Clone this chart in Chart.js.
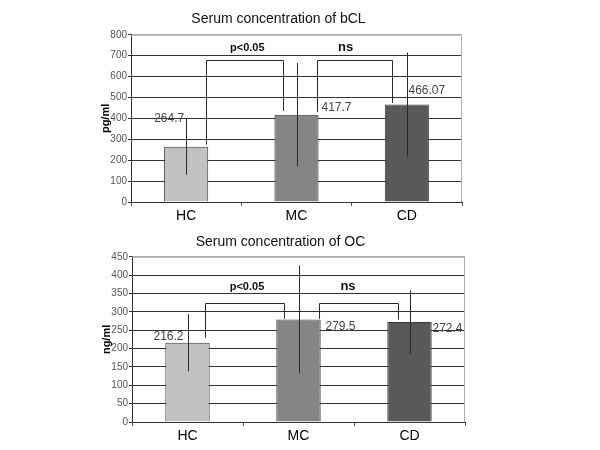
<!DOCTYPE html>
<html lang="en">
  <head>
    <meta charset="UTF-8" />
    <title>Serum concentration</title>
    <script src="https://cdn.jsdelivr.net/npm/chart.js"></script>
    <style>
      body {
        margin: 0;
        background: #fff;
        font-family: Arial, "Liberation Sans", sans-serif;
      }
      .wrap {
        position: relative;
        width: 600px;
        height: 225px;
      }
    </style>
  </head>
  <body>
    <div class="wrap"><canvas id="bclChart" width="600" height="225"></canvas></div>
    <div class="wrap"><canvas id="ocChart" width="600" height="225"></canvas></div>

    <script>
      // data
      const categories = ["HC", "MC", "CD"];
      const barColors = ["#c2c2c2", "#858585", "#595959"];

      const bclMeans = [264.7, 417.7, 466.07];
      const bclErrors = [134, 247, 249];
      const bclTicks = [0, 100, 200, 300, 400, 500, 600, 700, 800];
      const bclBracketTop = 680;
      const bclBracketLegs = [[275, 435], [430, 474]];

      const ocMeans = [216.2, 279.5, 272.4];
      const ocErrors = [78, 147, 86];
      const ocTicks = [0, 50, 100, 150, 200, 250, 300, 350, 400, 450];
      const ocBracketTop = 325;
      const ocBracketLegs = [[230, 281], [281, 279]];

      const sigLabels = ["p<0.05", "ns"];

      Chart.defaults.font.family = "Arial, 'Liberation Sans', sans-serif";
      Chart.defaults.animation = false;

      // error bars, brackets, value labels, plot border
      const extras = {
        id: "extras",
        afterDatasetsDraw(chart, args, opts) {
          const ctx = chart.ctx;
          const x = chart.scales.x;
          const y = chart.scales.y;
          const area = chart.chartArea;
          ctx.save();

          // light plot border (top, right)
          ctx.strokeStyle = "#b0b0b0";
          ctx.lineWidth = 1;
          ctx.beginPath();
          ctx.moveTo(area.left, area.top + 0.5);
          ctx.lineTo(area.right - 0.5, area.top + 0.5);
          ctx.lineTo(area.right - 0.5, area.bottom);
          ctx.stroke();

          // error bars (no caps)
          ctx.strokeStyle = "#2a2a2a";
          opts.means.forEach((m, i) => {
            const px = Math.round(x.getPixelForValue(i)) + 0.5;
            ctx.beginPath();
            ctx.moveTo(px, y.getPixelForValue(m + opts.errors[i]));
            ctx.lineTo(px, y.getPixelForValue(m - opts.errors[i]));
            ctx.stroke();
          });

          // brackets
          opts.legs.forEach((leg, b) => {
            const x1 = Math.round(x.getPixelForValue(b) + opts.legOffsets[b][0]) + 0.5;
            const x2 = Math.round(x.getPixelForValue(b + 1) + opts.legOffsets[b][1]) + 0.5;
            const top = Math.round(y.getPixelForValue(opts.bracketTop)) + 0.5;
            ctx.beginPath();
            ctx.moveTo(x1, y.getPixelForValue(leg[0]));
            ctx.lineTo(x1, top);
            ctx.lineTo(x2, top);
            ctx.lineTo(x2, y.getPixelForValue(leg[1]));
            ctx.stroke();

            ctx.fillStyle = "#111";
            ctx.textAlign = "center";
            ctx.textBaseline = "middle";
            ctx.font = opts.sigFonts[b];
            ctx.fillText(
              sigLabels[b],
              (x.getPixelForValue(b) + x.getPixelForValue(b + 1)) / 2 + opts.sigShift[b],
              top - opts.sigLift
            );
          });

          // value labels
          ctx.font = "12px Arial, 'Liberation Sans', sans-serif";
          ctx.fillStyle = "#444";
          opts.means.forEach((m, i) => {
            const o = opts.labelOffsets[i];
            ctx.fillText(
              String(m),
              x.getPixelForValue(i) + o[0],
              y.getPixelForValue(m) + o[1]
            );
          });
          ctx.restore();
        },
      };

      function makeChart(id, title, unit, means, ticks, layoutOpts, extraOpts) {
        const max = ticks[ticks.length - 1];
        return new Chart(document.getElementById(id), {
          type: "bar",
          data: {
            labels: categories,
            datasets: [
              {
                data: means,
                backgroundColor: barColors,
                borderColor: "#3a3a3a",
                borderWidth: 1,
                categoryPercentage: 1,
                barPercentage: 0.4,
              },
            ],
          },
          options: {
            responsive: false,
            layout: { padding: layoutOpts.padding },
            plugins: {
              legend: { display: false },
              tooltip: { enabled: false },
              title: {
                display: true,
                text: title,
                color: "#111",
                font: { size: 14, weight: "normal" },
                padding: layoutOpts.titlePadding,
              },
              extras: extraOpts,
            },
            scales: {
              x: {
                grid: {
                  offset: true,
                  drawOnChartArea: false,
                  tickLength: 4,
                  color: "#555",
                },
                border: { color: "#333" },
                ticks: { color: "#000", font: { size: 14 }, padding: 2 },
                afterFit(s) {
                  s.height = layoutOpts.xHeight;
                },
              },
              y: {
                min: 0,
                max: max,
                afterBuildTicks(s) {
                  s.ticks = ticks.map((v) => ({ value: v }));
                },
                grid: {
                  color: (c) => (c.tick && c.tick.value === max ? "#b0b0b0" : "#333"),
                  tickLength: 3,
                  tickColor: "#333",
                },
                border: { color: "#333" },
                ticks: { color: "#555", font: { size: 10 }, padding: 1 },
                title: {
                  display: true,
                  text: unit,
                  color: "#000",
                  font: { size: 11, weight: "bold" },
                  padding: 4,
                },
                afterFit(s) {
                  s.width = 36;
                },
              },
            },
          },
          plugins: [extras],
        });
      }

      makeChart(
        "bclChart",
        "Serum concentration of bCL",
        "pg/ml",
        bclMeans,
        bclTicks,
        {
          padding: { left: 95, right: 138, top: 0, bottom: 0 },
          titlePadding: { top: 11, bottom: 7 },
          xHeight: 23,
        },
        {
          means: bclMeans,
          errors: bclErrors,
          bracketTop: bclBracketTop,
          legs: bclBracketLegs,
          legOffsets: [[20, -14], [20, -15]],
          sigFonts: ["bold 11px Arial, 'Liberation Sans', sans-serif", "bold 13px Arial, 'Liberation Sans', sans-serif"],
          sigShift: [6, -6],
          sigLift: 13,
          labelOffsets: [[-17, -28], [40, -7], [20, -14]],
        }
      );

      makeChart(
        "ocChart",
        "Serum concentration of OC",
        "ng/ml",
        ocMeans,
        ocTicks,
        {
          padding: { left: 96, right: 135, top: 0, bottom: 0 },
          titlePadding: { top: 9, bottom: 6 },
          xHeight: 28,
        },
        {
          means: ocMeans,
          errors: ocErrors,
          bracketTop: ocBracketTop,
          legs: ocBracketLegs,
          legOffsets: [[17, -15], [20, -12]],
          sigFonts: ["bold 11px Arial, 'Liberation Sans', sans-serif", "bold 13px Arial, 'Liberation Sans', sans-serif"],
          sigShift: [4, -6],
          sigLift: 17,
          labelOffsets: [[-19, -6], [42, 7], [38, 7]],
        }
      );
    </script>
  </body>
</html>
